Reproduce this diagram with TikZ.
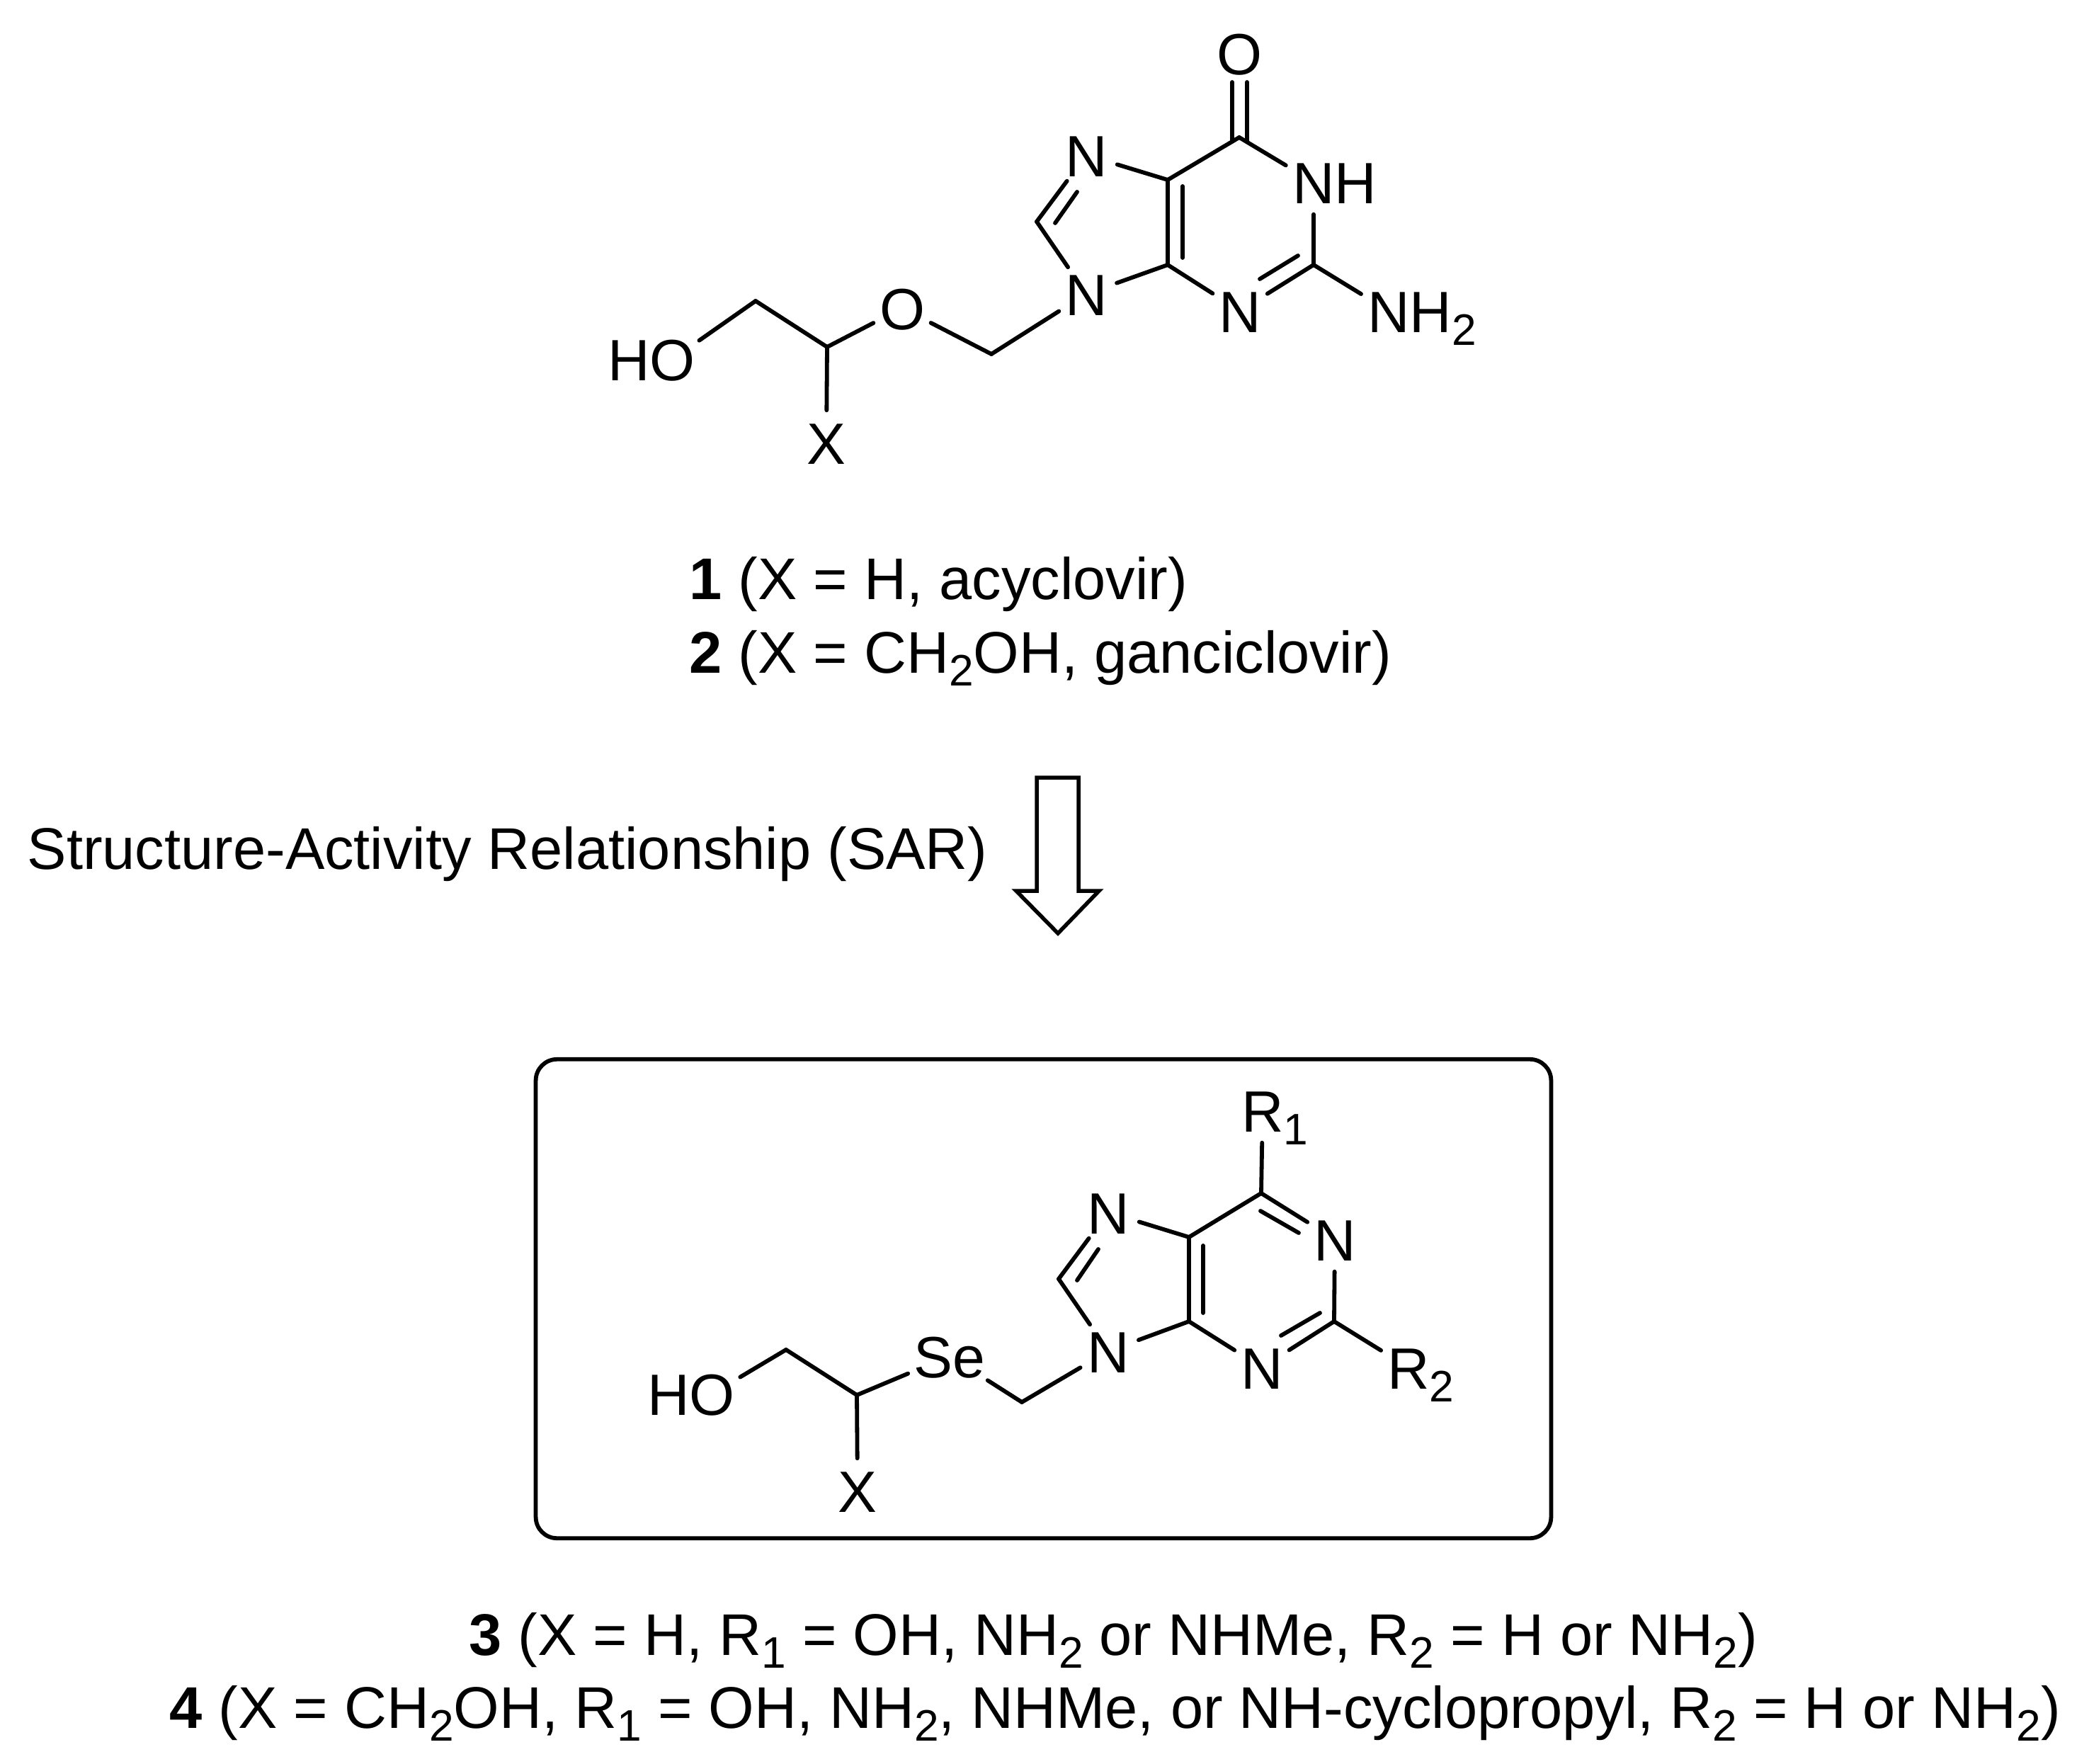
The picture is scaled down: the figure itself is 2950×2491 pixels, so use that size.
\documentclass[tikz,border=0pt]{standalone}
\usepackage{fontspec}
\setmainfont{Liberation Sans}
\newcommand{\subtxt}[1]{\raisebox{-0.18cm}{\fontsize{17.7}{20}\selectfont #1}}
\tikzset{
  bond/.style={line width=0.058cm, line cap=round},
  atom/.style={circle, inner sep=0pt, minimum size=0.9cm, text height=0.6cm, text depth=0pt, font=\fontsize{23.4}{28}\selectfont},
  bigatom/.style={atom, minimum size=1.26cm},
  caption/.style={anchor=base west, inner sep=0pt, font=\fontsize{23.6}{28}\selectfont}
}
\begin{document}
\begin{tikzpicture}[x=0.01cm, y=-0.01cm]
\useasboundingbox (0,0) rectangle (2950,2491);
% upper molecule
\node [atom] (otop) at (1750,75) {O};
\node [atom] (nh) at (1855,257) {\rlap{NH}\hphantom{N}};
\node [atom] (nthree) at (1751,439) {N};
\node [atom] (ntwo) at (1961,439) {\rlap{NH\subtxt{2}}\hphantom{N}};
\node [atom] (nseven) at (1534,219) {N};
\node [atom] (nnine) at (1534,415) {N};
\node [atom] (oeth) at (1274,435) {O};
\node [atom] (ho) at (950,507) {\hphantom{O}\llap{HO}};
\node [atom] (xtop) at (1167,625) {X};
\coordinate (cco) at (1750,194);
\coordinate (cfive) at (1649,254);
\coordinate (cfour) at (1649,374);
\coordinate (ctwo) at (1855,374);
\coordinate (ceight) at (1464,313);
\coordinate (cmeth) at (1400,500);
\coordinate (chc) at (1168,490);
\coordinate (cprop) at (1067,425);
\coordinate (oa) at (1740,116);
\coordinate (ob) at (1740,200);
\coordinate (oc) at (1761,116);
\coordinate (od) at (1761,200);
\coordinate (ia) at (1670,263);
\coordinate (ib) at (1670,364);
\coordinate (ic) at (1833,361);
\coordinate (id) at (1779,394);
\coordinate (ie) at (1521,271);
\coordinate (if) at (1490,315);
\draw [bond] (oa) -- (ob);
\draw [bond] (oc) -- (od);
\draw [bond] (cco) -- (nh);
\draw [bond] (nh) -- (ctwo);
\draw [bond] (ctwo) -- (nthree);
\draw [bond] (ic) -- (id);
\draw [bond] (ctwo) -- (ntwo);
\draw [bond] (nthree) -- (cfour);
\draw [bond] (cfour) -- (cfive);
\draw [bond] (ia) -- (ib);
\draw [bond] (cfive) -- (cco);
\draw [bond] (cfive) -- (nseven);
\draw [bond] (nseven) -- (ceight);
\draw [bond] (ie) -- (if);
\draw [bond] (ceight) -- (nnine);
\draw [bond] (nnine) -- (cfour);
\draw [bond] (nnine) -- (cmeth);
\draw [bond] (cmeth) -- (oeth);
\draw [bond] (oeth) -- (chc);
\draw [bond] (chc) -- (cprop);
\draw [bond] (cprop) -- (ho);
\draw [bond] (chc) -- (xtop);
\node [caption] (capone) at (973,846) {\textbf{1} (X = H, acyclovir)};
\node [caption] (captwo) at (973,950) {\textbf{2} (X = CH\subtxt{2}OH, ganciclovir)};
% arrow
\node [caption] (sar) at (38,1227) {Structure-Activity Relationship (SAR)};
\draw [line width=0.055cm, fill=white] (1464,1098) -- (1523,1098) -- (1523,1258) -- (1552,1258) -- (1494,1318) -- (1435,1258) -- (1464,1258) -- cycle;
% lower molecule
\node [draw, line width=0.058cm, rounded corners=0.3cm, minimum width=14.33cm, minimum height=6.76cm] (frame) at (1473.5,1834) {};
\node [atom] (rone) at (1783,1568) {\rlap{R\subtxt{1}}\hphantom{R}};
\node [atom] (none) at (1885,1750) {N};
\node [atom] (nthreeb) at (1782,1931) {N};
\node [atom] (rtwo) at (1989,1931) {\rlap{R\subtxt{2}}\hphantom{R}};
\node [atom] (nsevenb) at (1565,1712) {N};
\node [atom] (nnineb) at (1565,1908) {N};
\node [bigatom] (se) at (1341,1915) {Se};
\node [atom] (hob) at (1006,1968) {\hphantom{O}\llap{HO}};
\node [atom] (xbot) at (1211,2105) {X};
\coordinate (csix) at (1781,1685);
\coordinate (cfiveb) at (1679,1747);
\coordinate (cfourb) at (1679,1866);
\coordinate (ctwob) at (1884,1866);
\coordinate (ceightb) at (1495,1806);
\coordinate (cmethb) at (1443,1980);
\coordinate (chcb) at (1210,1970);
\coordinate (cpropb) at (1110,1906);
\coordinate (ja) at (1780,1710);
\coordinate (jb) at (1834,1741);
\coordinate (jc) at (1864,1854);
\coordinate (jd) at (1809,1886);
\coordinate (je) at (1699,1759);
\coordinate (jf) at (1699,1854);
\coordinate (jg) at (1551,1764);
\coordinate (jh) at (1521,1808);
\draw [bond] (csix) -- (rone);
\draw [bond] (csix) -- (none);
\draw [bond] (ja) -- (jb);
\draw [bond] (none) -- (ctwob);
\draw [bond] (ctwob) -- (nthreeb);
\draw [bond] (jc) -- (jd);
\draw [bond] (ctwob) -- (rtwo);
\draw [bond] (nthreeb) -- (cfourb);
\draw [bond] (cfourb) -- (cfiveb);
\draw [bond] (je) -- (jf);
\draw [bond] (cfiveb) -- (csix);
\draw [bond] (cfiveb) -- (nsevenb);
\draw [bond] (nsevenb) -- (ceightb);
\draw [bond] (jg) -- (jh);
\draw [bond] (ceightb) -- (nnineb);
\draw [bond] (nnineb) -- (cfourb);
\draw [bond] (nnineb) -- (cmethb);
\draw [bond] (cmethb) -- (se);
\draw [bond] (se) -- (chcb);
\draw [bond] (chcb) -- (cpropb);
\draw [bond] (cpropb) -- (hob);
\draw [bond] (chcb) -- (xbot);
\node [caption] (capthree) at (662,2337) {\textbf{3} (X = H, R\subtxt{1} = OH, NH\subtxt{2} or NHMe, R\subtxt{2} = H or NH\subtxt{2})};
\node [caption] (capfour) at (239,2440) {\textbf{4} (X = CH\subtxt{2}OH, R\subtxt{1} = OH, NH\subtxt{2}, NHMe, or NH-cyclopropyl, R\subtxt{2} = H or NH\subtxt{2})};
\end{tikzpicture}
\end{document}
